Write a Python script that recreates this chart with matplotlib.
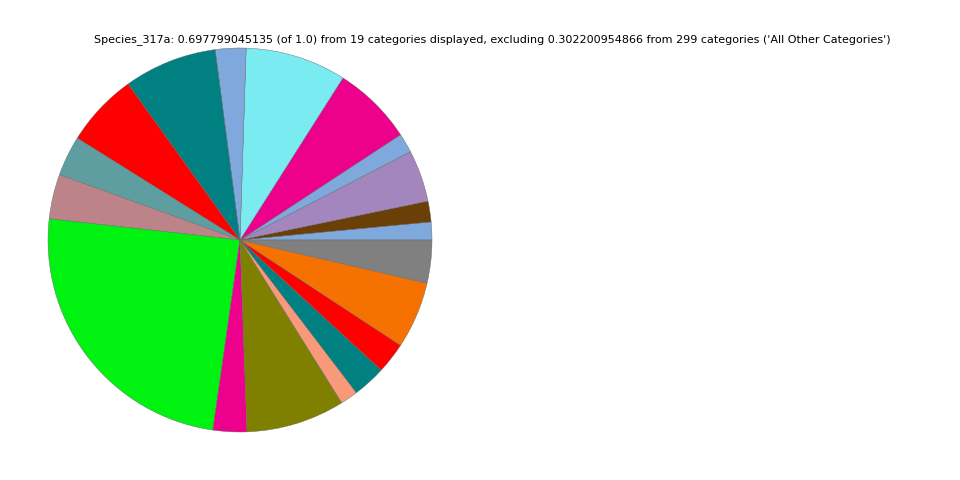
import matplotlib
matplotlib.use('Agg')
import matplotlib.pyplot as plt

# category fractions (counterclockwise from 3 o'clock)
values = [0.0105, 0.0122, 0.0304, 0.0114, 0.0471, 0.0593, 0.0180, 0.0547,
          0.0432, 0.0236, 0.0262, 0.1710, 0.0198, 0.0580, 0.0103, 0.0194,
          0.0182, 0.0393, 0.0252]
colors = ['#7FA8DC', '#6B3F08', '#A386BE', '#7FA8DC', '#EC008C', '#7BEBF2',
          '#7FA8DC', '#008080', '#FF0000', '#5F9EA0', '#BC8489', '#00F210',
          '#EC008C', '#808000', '#F89A7A', '#008080', '#FF0000', '#F57200',
          '#808080']
title = ("Species_317a: 0.697799045135 (of 1.0) from 19 categories displayed, "
         "excluding 0.302200954866 from 299 categories ('All Other Categories')")

fig = plt.figure(figsize=(9.6, 4.8), dpi=100)
ax = fig.add_axes([0.05, 0.1, 0.4, 0.8])
ax.pie(values, colors=colors, startangle=0, counterclock=True, radius=1,
       wedgeprops={'edgecolor': '#666666', 'linewidth': 0.3})
ax.set_xlim(-1, 1)
ax.set_ylim(-1, 1)
ax.set_aspect('equal')
ax.axis('off')

fig.text(0.5125, 0.917, title, ha='center', va='center', fontsize=8)

fig.savefig('out.png', dpi=100)
